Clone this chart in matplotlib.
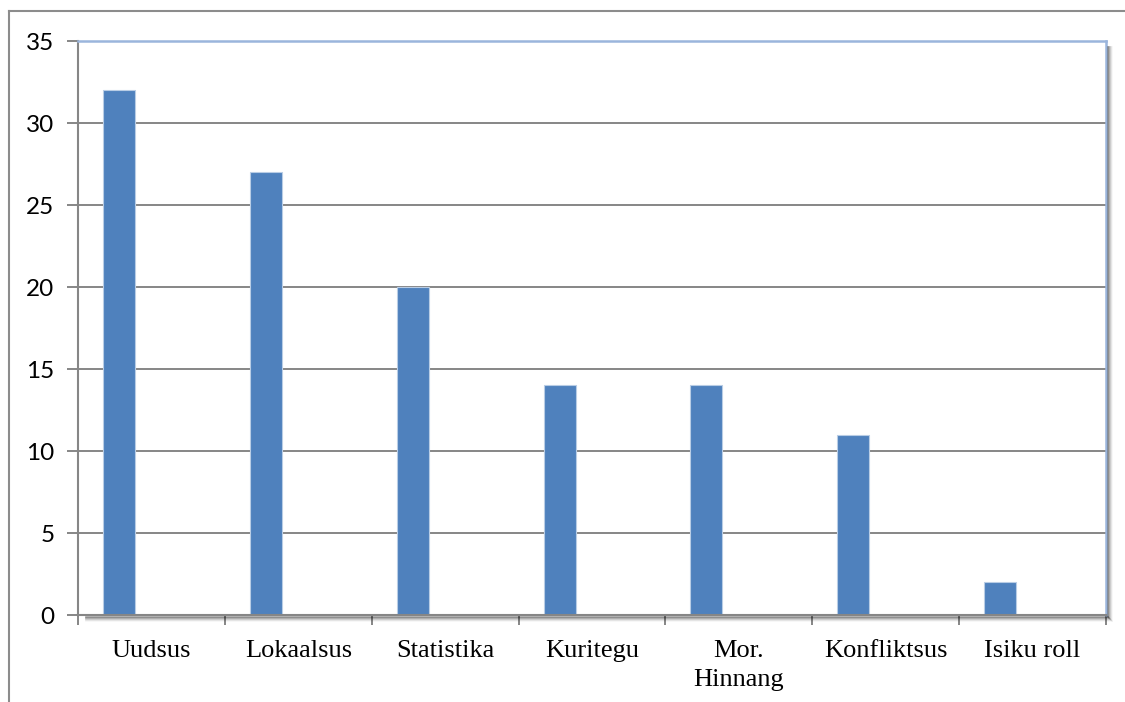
import numpy as np
import matplotlib.pyplot as plt
from matplotlib.lines import Line2D

categories = ["Uudsus", "Lokaalsus", "Statistika", "Kuritegu", "Mor.\nHinnang", "Konfliktsus", "Isiku roll"]
values = [32, 27, 20, 14, 14, 11, 2]
yticks = [0, 5, 10, 15, 20, 25, 30, 35]

W, H = 1125, 702
fig = plt.figure(figsize=(W / 100, H / 100), dpi=100)
fig.patch.set_facecolor("white")

# outer chart frame (only left and top visible)
fig.add_artist(Line2D([9 / W, 9 / W], [0, 1 - 11 / H], transform=fig.transFigure, color="#8c8c8c", lw=1.5))
fig.add_artist(Line2D([9 / W, 1], [1 - 11 / H, 1 - 11 / H], transform=fig.transFigure, color="#8c8c8c", lw=1.5))

left, right, top, bottom = 78, 1106, 41, 615
ax = fig.add_axes([left / W, 1 - bottom / H, (right - left) / W, (bottom - top) / H])

# drop shadow of plot area
for i, a in enumerate([0.35, 0.25, 0.16, 0.09, 0.04]):
    d = i + 1.5
    fig.add_artist(Line2D([(right + d) / W, (right + d) / W], [1 - (bottom + d) / H, 1 - (top + 6) / H],
                          transform=fig.transFigure, color="black", alpha=a, lw=1.2))
    fig.add_artist(Line2D([(left + 8) / W, (right + d) / W], [1 - (bottom + d) / H, 1 - (bottom + d) / H],
                          transform=fig.transFigure, color="black", alpha=a, lw=1.2))

x = np.arange(len(categories))
ax.bar(x - 0.5 + 0.279, values, width=0.218, color="#4f81bd", edgecolor="#b9cde5", linewidth=0.8, zorder=3)

ax.set_xlim(-0.5, len(categories) - 0.5)
ax.set_ylim(0, 35)
ax.set_yticks(yticks)
ax.set_yticklabels([str(v) for v in yticks], fontfamily="Lato", fontsize=17.5)
ax.yaxis.grid(True, color="#868686", lw=1.4, zorder=0)
ax.set_axisbelow(True)

ax.set_xticks(x)
ax.set_xticklabels(categories, fontfamily="Liberation Serif", fontsize=19, linespacing=1.4)
ax.tick_params(axis="x", length=0, pad=18)
ax.set_xticks(np.arange(len(categories) + 1) - 0.5, minor=True)
ax.tick_params(axis="x", which="minor", length=7, width=1.4, color="#868686")
ax.tick_params(axis="y", length=8, width=1.4, color="#868686", pad=9)

for s in ["left", "bottom"]:
    ax.spines[s].set_color("#868686")
    ax.spines[s].set_linewidth(1.5)
for s in ["top", "right"]:
    ax.spines[s].set_color("#9bb5dc")
    ax.spines[s].set_linewidth(1.8)
ax.spines["bottom"].set_zorder(4)

fig.savefig("out.png", dpi=100)
